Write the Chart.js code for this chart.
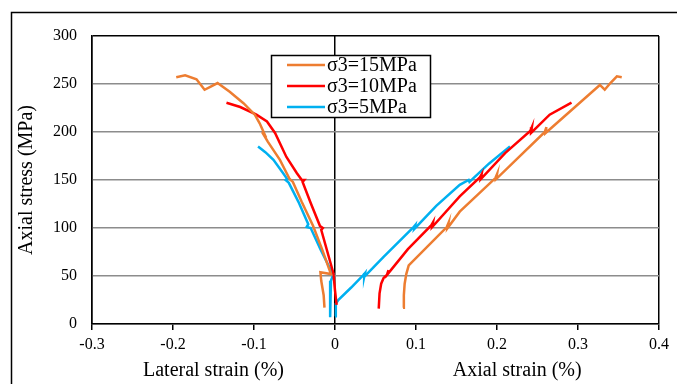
<!DOCTYPE html>
<html lang="en">
<head>
  <meta charset="UTF-8" />
  <title>Stress-strain curves</title>
  <script src="https://cdn.jsdelivr.net/npm/chart.js"></script>
  <style>
    body { margin: 0; padding: 0; background: #fff; }
    #wrap { width: 677px; height: 384px; }
  </style>
</head>
<body>
  <div id="wrap"><canvas id="chart" width="677" height="384"></canvas></div>

  <script>
    // series labels + colours
    const seriesLabels = ['σ3=15MPa', 'σ3=10MPa', 'σ3=5MPa'];
    const seriesColors = ['#ED7D31', '#FF0000', '#00B0F0'];
    const xTitles = ['Lateral strain (%)', 'Axial strain (%)'];
    const xTitleAt = [-0.15, 0.225];

    // sigma3 = 15 MPa
    const lat15X = [-0.196,-0.185,-0.171,-0.161,-0.154,-0.145,-0.130,-0.113,-0.099,-0.093,-0.085,-0.090,-0.083,-0.068,-0.056,-0.052,-0.041,-0.027,-0.016,-0.005,-0.018,-0.017,-0.014,-0.013];
    const lat15Y = [257,259,255,244,247,251,242,230,218,209,194,200,190,171,151,148,127,102,78,52,54,45,30,17];
    const ax15X = [0.084,0.085,0.086,0.088,0.091,0.138,0.140,0.139,0.154,0.198,0.200,0.199,0.259,0.261,0.260,0.327,0.333,0.340,0.348,0.354];
    const ax15Y = [17,30,42,52,61,101,105,100,117,152,156,151,200,205,199,249,244,251,258,257];

    // sigma3 = 10 MPa
    const lat10X = [-0.134,-0.117,-0.097,-0.084,-0.074,-0.060,-0.047,-0.041,-0.038,-0.040,-0.030,-0.0185,-0.015,-0.017,-0.002,0.000,0.002];
    const lat10Y = [230.5,226,218,211,199,174,157,150,150,148,126,102,100,98,53,35,20];
    const ax10X = [0.054,0.055,0.057,0.060,0.064,0.066,0.065,0.090,0.119,0.121,0.120,0.154,0.179,0.181,0.180,0.210,0.241,0.243,0.242,0.265,0.292];
    const ax10Y = [16,32,42,48,51,56,52,78,103,106,101,133,153,156,151,178,201,205,199,218,230.5];

    // sigma3 = 5 MPa
    const lat5X = [-0.095,-0.086,-0.076,-0.064,-0.059,-0.061,-0.057,-0.045,-0.033,-0.035,-0.030,-0.018,-0.004,-0.002,-0.005,-0.006,-0.006];
    const lat5Y = [185,179,171,157,151,150,147,127,104,101,100,78,54,52,45,25,7];
    const ax5X = [0.000,0.001,0.004,0.020,0.034,0.037,0.036,0.060,0.096,0.099,0.098,0.125,0.154,0.165,0.166,0.190,0.216];
    const ax5Y = [8,21,25,38,50,53,49,70,100,103,99,123,145,150,148,167,185];

    function pts(xs, ys) {
      return xs.map((x, i) => ({ x: x, y: ys[i] }));
    }

    function line(xs, ys, k) {
      return {
        label: seriesLabels[k],
        data: pts(xs, ys),
        showLine: true,
        borderColor: seriesColors[k],
        backgroundColor: seriesColors[k],
        borderWidth: 2.5,
        pointRadius: 0,
        tension: 0
      };
    }

    const near = (v, t) => Math.abs(v - t) < 1e-6;
    const serif = "'Liberation Serif', 'Times New Roman', serif";

    // outer frame, x axis titles and the boxed legend
    const extras = {
      id: 'extras',
      beforeDraw(chart) {
        const c = chart.ctx;
        c.save();
        c.strokeStyle = '#000';
        c.lineWidth = 1.5;
        c.strokeRect(11.5, 12.5, 700, 400);
        c.restore();
      },
      afterDraw(chart) {
        const c = chart.ctx;
        const xs = chart.scales.x;
        c.save();
        c.fillStyle = '#000';
        c.font = '20px ' + serif;
        c.textAlign = 'center';
        c.textBaseline = 'middle';
        xTitles.forEach((t, i) => c.fillText(t, xs.getPixelForValue(xTitleAt[i]), 371));

        // legend box
        const bx = 271, by = 55, bw = 159, bh = 62;
        c.fillStyle = '#fff';
        c.fillRect(bx, by, bw, bh);
        c.strokeStyle = '#000';
        c.lineWidth = 1.5;
        c.strokeRect(bx + 0.5, by + 0.5, bw, bh);
        const rows = [65, 86, 107];
        c.textAlign = 'left';
        seriesLabels.forEach((lab, i) => {
          c.strokeStyle = seriesColors[i];
          c.lineWidth = 2.5;
          c.beginPath();
          c.moveTo(287, rows[i]);
          c.lineTo(325, rows[i]);
          c.stroke();
          c.fillStyle = '#000';
          c.fillText(lab, 327, rows[i] + 1);
        });
        c.restore();
      }
    };

    new Chart(document.getElementById('chart'), {
      type: 'scatter',
      data: {
        datasets: [
          line(lat15X, lat15Y, 0), line(ax15X, ax15Y, 0),
          line(lat10X, lat10Y, 1), line(ax10X, ax10Y, 1),
          line(lat5X, lat5Y, 2), line(ax5X, ax5Y, 2)
        ]
      },
      options: {
        responsive: false,
        animation: false,
        layout: { padding: { top: 36, right: 18, left: 0, bottom: 0 } },
        plugins: { legend: { display: false }, tooltip: { enabled: false } },
        scales: {
          x: {
            type: 'linear',
            min: -0.3,
            max: 0.4,
            afterFit: s => { s.height = 60; },
            border: { display: true, color: '#000', width: 1.5 },
            grid: {
              color: ctx => (near(ctx.tick.value, 0) || near(ctx.tick.value, -0.3) || near(ctx.tick.value, 0.4)) ? '#000' : 'rgba(0,0,0,0)',
              lineWidth: 1.5,
              tickColor: '#000',
              tickLength: 6
            },
            ticks: {
              stepSize: 0.1,
              color: '#000',
              padding: 5,
              font: { family: serif, size: 16 },
              callback: v => near(v, 0) ? '0' : v.toFixed(1)
            }
          },
          y: {
            min: 0,
            max: 300,
            afterFit: s => { s.width = 92; },
            border: { display: true, color: '#000', width: 1.5 },
            grid: {
              color: ctx => ctx.tick.value === 300 ? '#000' : '#8c8c8c',
              lineWidth: 1.5,
              drawTicks: false
            },
            ticks: {
              stepSize: 50,
              color: '#000',
              padding: 15,
              font: { family: serif, size: 16 }
            },
            title: {
              display: true,
              text: 'Axial stress (MPa)',
              color: '#000',
              font: { family: serif, size: 20 },
              padding: { top: 15, bottom: 0 }
            }
          }
        }
      },
      plugins: [extras]
    });
  </script>
</body>
</html>
